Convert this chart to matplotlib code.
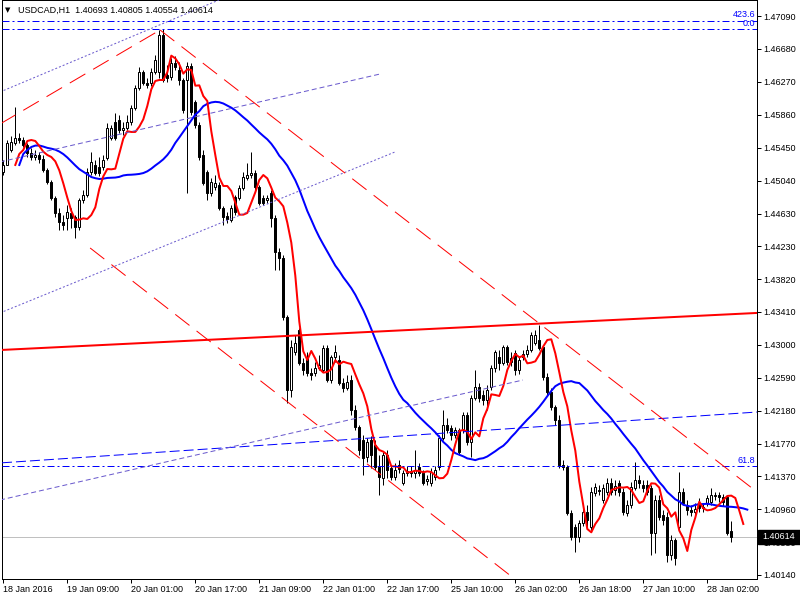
import numpy as np
import pandas as pd
import matplotlib
matplotlib.use("Agg")
import matplotlib.pyplot as plt
from matplotlib.patches import Rectangle
import matplotlib.transforms as mtransforms

plt.rcParams['lines.scale_dashes'] = False
plt.rcParams['font.family'] = ['Liberation Sans', 'DejaVu Sans']

# ---------------- data (USDCAD, H1) ----------------
opens = [
 1.45150,1.45238,1.45424,1.45511,1.45574,1.45548,1.45486,1.45387,1.45337,1.45362,
 1.45312,1.45175,1.45026,1.44828,1.44641,1.44529,1.44579,1.44641,1.44591,1.44467,
 1.44802,1.44865,1.45150,1.45238,1.45213,1.45213,1.45325,1.45574,1.45772,1.45797,
 1.45673,1.45698,1.45772,1.45947,1.46195,1.46394,1.46257,1.46257,1.46394,1.46394,
 1.46854,1.46357,1.46332,1.46506,1.46419,1.46294,1.46294,1.46468,1.46021,1.45735,
 1.45362,1.45150,1.44890,1.44964,1.44989,1.44703,1.44603,1.44554,1.44840,1.44828,
 1.44952,1.45076,1.45113,1.45138,1.44964,1.44828,1.44802,1.44890,1.44579,1.44156,
 1.44082,1.43348,1.42440,1.42912,1.43186,1.42776,1.42850,1.42652,1.42652,1.42714,
 1.42689,1.42963,1.42564,1.42850,1.42813,1.42527,1.42465,1.42564,1.42191,1.41980,
 1.41818,1.41607,1.41818,1.41756,1.41483,1.41346,1.41632,1.41471,1.41358,1.41508,
 1.41284,1.41408,1.41433,1.41408,1.41483,1.41408,1.41309,1.41284,1.41358,1.41483,
 1.41844,1.42005,1.41968,1.41881,1.41943,1.41943,1.42129,1.41793,1.42341,1.42477,
 1.42378,1.42316,1.42477,1.42714,1.42850,1.42776,1.42975,1.42788,1.42900,1.42689,
 1.42850,1.42887,1.42937,1.43025,1.43062,1.42975,1.42602,1.42415,1.42229,1.42067,
 1.41508,1.41483,1.40911,1.40737,1.40612,1.40787,1.40923,1.40737,1.41160,1.41197,
 1.41072,1.41172,1.41284,1.41197,1.41284,1.41172,1.40911,1.41010,1.41222,1.41321,
 1.41259,1.41259,1.41222,1.40662,1.41072,1.40886,1.40861,1.40389,1.40575,1.40737,
 1.41172,1.41010,1.40948,1.40923,1.41035,1.40972,1.41035,1.41047,1.41122,1.41135,
 1.41110,1.41110,1.40693]
highs = [
 1.45300,1.45548,1.45598,1.45959,1.45636,1.45586,1.45511,1.45449,1.45424,1.45399,
 1.45362,1.45201,1.45051,1.44852,1.44703,1.44616,1.44740,1.44703,1.44616,1.44828,
 1.44927,1.45201,1.45399,1.45300,1.45337,1.45362,1.45760,1.45735,1.45884,1.45859,
 1.45772,1.45859,1.45984,1.46232,1.46456,1.46419,1.46320,1.46444,1.46605,1.46916,
 1.46925,1.46481,1.46568,1.46592,1.46518,1.46320,1.46518,1.46506,1.46046,1.45772,
 1.45424,1.45175,1.45076,1.45113,1.45026,1.44727,1.44653,1.44740,1.44865,1.44989,
 1.45150,1.45263,1.45399,1.45175,1.44989,1.44865,1.44865,1.44927,1.44616,1.44206,
 1.44119,1.43373,1.43062,1.43124,1.43211,1.42838,1.42912,1.42714,1.42788,1.42875,
 1.43000,1.43000,1.42875,1.43000,1.42875,1.42590,1.42627,1.42627,1.42254,1.42005,
 1.41881,1.41844,1.41868,1.41818,1.41632,1.41669,1.41694,1.41508,1.41533,1.41570,
 1.41445,1.41495,1.41495,1.41694,1.41533,1.41445,1.41383,1.41471,1.41495,1.41881,
 1.42191,1.42092,1.42005,1.41980,1.41968,1.42166,1.42166,1.42378,1.42689,1.42527,
 1.42440,1.42502,1.42751,1.42937,1.42937,1.43000,1.43000,1.42912,1.42937,1.42863,
 1.42937,1.43000,1.43161,1.43186,1.43248,1.43000,1.42652,1.42465,1.42254,1.42129,
 1.41570,1.41508,1.40948,1.40774,1.40824,1.40972,1.41010,1.41234,1.41284,1.41259,
 1.41271,1.41346,1.41346,1.41321,1.41321,1.41222,1.41072,1.41296,1.41545,1.41383,
 1.41321,1.41321,1.41259,1.41135,1.41135,1.40948,1.40923,1.40637,1.40600,1.41420,
 1.41222,1.41072,1.41010,1.41035,1.41097,1.41035,1.41135,1.41222,1.41172,1.41172,
 1.41147,1.41135,1.40805]
lows = [
 1.45113,1.45237,1.45399,1.45486,1.45511,1.45461,1.45337,1.45300,1.45300,1.45263,
 1.45150,1.45001,1.44802,1.44591,1.44429,1.44429,1.44429,1.44455,1.44330,1.44429,
 1.44765,1.44840,1.45113,1.45113,1.45100,1.45175,1.45300,1.45548,1.45548,1.45636,
 1.45611,1.45673,1.45735,1.45921,1.46170,1.46232,1.46195,1.46219,1.46369,1.46320,
 1.46269,1.46269,1.46294,1.46419,1.46232,1.45884,1.44890,1.45859,1.45698,1.45300,
 1.44989,1.44802,1.44852,1.44927,1.44678,1.44492,1.44517,1.44529,1.44616,1.44802,
 1.44927,1.45051,1.45076,1.44927,1.44740,1.44740,1.44765,1.44467,1.43932,1.43932,
 1.43310,1.42279,1.42353,1.42875,1.42751,1.42627,1.42614,1.42564,1.42614,1.42689,
 1.42664,1.42539,1.42527,1.42788,1.42502,1.42415,1.42440,1.42129,1.41943,1.41632,
 1.41383,1.41545,1.41471,1.41445,1.41135,1.41259,1.41346,1.41321,1.41321,1.41408,
 1.41259,1.41370,1.41358,1.41346,1.41370,1.41259,1.41259,1.41246,1.41321,1.41445,
 1.41818,1.41906,1.41818,1.41844,1.41632,1.41906,1.41756,1.41607,1.42316,1.42291,
 1.42254,1.42191,1.42440,1.42664,1.42689,1.42751,1.42751,1.42738,1.42627,1.42639,
 1.42813,1.42850,1.42912,1.43000,1.42937,1.42564,1.42378,1.42191,1.42005,1.41471,
 1.41445,1.40886,1.40575,1.40426,1.40550,1.40749,1.40724,1.40699,1.41122,1.41135,
 1.41035,1.41135,1.41135,1.41135,1.41122,1.40886,1.40873,1.40972,1.41197,1.41222,
 1.41172,1.41135,1.40389,1.40414,1.40824,1.40761,1.40301,1.40326,1.40264,1.40699,
 1.41010,1.40886,1.40873,1.40886,1.40923,1.40923,1.40997,1.41010,1.41072,1.41047,
 1.40997,1.40637,1.40554]
closes = [
 1.45238,1.45511,1.45523,1.45574,1.45548,1.45486,1.45387,1.45337,1.45362,1.45312,
 1.45175,1.45026,1.44828,1.44641,1.44529,1.44492,1.44653,1.44579,1.44467,1.44802,
 1.44865,1.45150,1.45275,1.45138,1.45138,1.45300,1.45698,1.45698,1.45574,1.45673,
 1.45698,1.45772,1.45947,1.46195,1.46394,1.46257,1.46232,1.46394,1.46543,1.46854,
 1.46294,1.46320,1.46506,1.46456,1.46294,1.45921,1.46468,1.45896,1.45735,1.45337,
 1.45014,1.44890,1.45026,1.45014,1.44703,1.44591,1.44566,1.44703,1.44653,1.44952,
 1.45088,1.45113,1.45138,1.44964,1.44765,1.44765,1.44828,1.44579,1.44156,1.44082,
 1.43348,1.42440,1.42975,1.43025,1.42776,1.42689,1.42652,1.42627,1.42714,1.42751,
 1.42963,1.42564,1.42850,1.42912,1.42527,1.42465,1.42539,1.42191,1.41980,1.41694,
 1.41595,1.41793,1.41632,1.41483,1.41358,1.41632,1.41445,1.41358,1.41445,1.41458,
 1.41408,1.41433,1.41408,1.41445,1.41408,1.41284,1.41334,1.41420,1.41445,1.41844,
 1.42005,1.41943,1.41881,1.41943,1.41669,1.42129,1.41793,1.42341,1.42477,1.42341,
 1.42316,1.42440,1.42714,1.42912,1.42776,1.42975,1.42788,1.42838,1.42689,1.42813,
 1.42887,1.42937,1.43124,1.43124,1.42963,1.42602,1.42415,1.42229,1.42067,1.41508,
 1.41483,1.40911,1.40612,1.40612,1.40787,1.40923,1.40824,1.41172,1.41234,1.41185,
 1.41222,1.41284,1.41172,1.41246,1.41172,1.40923,1.41010,1.41234,1.41321,1.41284,
 1.41222,1.41172,1.40662,1.41072,1.40861,1.40824,1.40389,1.40575,1.40351,1.41172,
 1.41035,1.40948,1.40923,1.40960,1.40972,1.40985,1.41097,1.41135,1.41135,1.41110,
 1.41047,1.40662,1.40614]

fast_period, fast_shift = 3, 3     # red moving average (SMA, shifted right)
slow_period, slow_shift = 26, 4    # blue moving average (SMA, shifted right)

x_tick_bars = [0, 16, 32, 48, 64, 80, 96, 112, 128, 144, 160, 176]
x_tick_labels = ["18 Jan 2016", "19 Jan 09:00", "20 Jan 01:00", "20 Jan 17:00",
                 "21 Jan 09:00", "22 Jan 01:00", "22 Jan 17:00", "25 Jan 10:00",
                 "26 Jan 02:00", "26 Jan 18:00", "27 Jan 10:00", "28 Jan 02:00"]
y_ticks = [1.47090, 1.46680, 1.46270, 1.45860, 1.45450, 1.45040, 1.44630, 1.44230,
           1.43820, 1.43410, 1.43000, 1.42590, 1.42180, 1.41770, 1.41370, 1.40960,
           1.40550, 1.40140]

symbol = "USDCAD,H1"
last_price = 1.40614

fib_labels = ["423.6", "0.0", "61.8"]
fib_prices = [1.47032, 1.46925, 1.41495]

# analysis objects: (bar, price) anchor pairs
red_solid_line = [(-0.83, 1.42937), (188.43, 1.43398)]
blue_dash_line = [(-0.83, 1.41533), (188.43, 1.42166)]
purple_dot_a = [(-0.83, 1.46145), (53.9, 1.47289)]
purple_dash_b = [(-0.83, 1.45275), (94.2, 1.46369)]
purple_dot_c = [(-0.83, 1.43398), (97.9, 1.45399)]
purple_dash_d = [(-0.83, 1.41072), (129.9, 1.42564)]
red_dash_e = [(-0.83, 1.45747), (39.2, 1.46916)]
red_dash_f = [(39.2, 1.46916), (188.43, 1.41172)]
red_dash_g = [(21.7, 1.44206), (131.7, 1.39941)]

# ---------------- figure ----------------
PX = 0.72  # points per pixel at dpi 100
fig = plt.figure(figsize=(8, 6), dpi=100)
ax = fig.add_axes([2 / 800, 21 / 600, 755 / 800, 579 / 600])
ax.set_xlim(-0.325, 188.425)
ax.set_ylim(1.40090, 1.47289)

n = len(closes)
xs = np.arange(n)

# candles
for i in range(n):
    o, h, l, c = opens[i], highs[i], lows[i], closes[i]
    ax.plot([i, i], [l, h], color='black', lw=PX, zorder=2, solid_capstyle='butt')
    bottom = min(o, c)
    height = max(abs(c - o), 1e-6)
    ax.add_patch(Rectangle((i - 0.25, bottom), 0.5, height,
                           facecolor='white' if c >= o else 'black',
                           edgecolor='black', lw=PX, zorder=2.1))

# moving averages (shifted forward like MT4's "shift" parameter)
cs = pd.Series(closes)
ma_fast = cs.rolling(fast_period, min_periods=1).mean()
ma_slow = cs.rolling(slow_period, min_periods=1).mean()
ax.plot(xs + slow_shift, ma_slow, color='#0000FF', lw=2 * PX, zorder=3)
ax.plot(xs + fast_shift, ma_fast, color='#FF0000', lw=2 * PX, zorder=3.1)

# bid line
ax.axhline(last_price, color='#C0C0C0', lw=PX, zorder=1)

# fibonacci levels
fib_style = (0, (7 * PX, 3 * PX, 2 * PX, 3 * PX))
btrans = mtransforms.blended_transform_factory(ax.transAxes, ax.transData)
for lab, p in zip(fib_labels, fib_prices):
    ax.axhline(p, color='#0000FF', lw=PX, linestyle=fib_style, zorder=4)
    ax.text(1 - 2 / 755, p + 1.3 * 0.000124, lab, transform=btrans, ha='right',
            va='bottom', color='#0000FF', fontsize=6.5, zorder=5)

# trend lines
ax.axline(red_solid_line[0], red_solid_line[1], color='#FF0000', lw=2 * PX, zorder=4)
ax.axline(blue_dash_line[0], blue_dash_line[1], color='#0000FF', lw=PX,
          linestyle=(0, (10 * PX, 4 * PX)), zorder=4)

purple = '#6A5ACD'
dot = (0, (2 * PX, 2 * PX))
dash = (0, (5 * PX, 3 * PX))
reddash = (0, (18 * PX, 9 * PX))
for seg, col, ls in [(purple_dot_a, purple, dot), (purple_dash_b, purple, dash),
                     (purple_dot_c, purple, dot), (purple_dash_d, purple, dash),
                     (red_dash_e, '#FF0000', reddash), (red_dash_f, '#FF0000', reddash),
                     (red_dash_g, '#FF0000', reddash)]:
    ax.plot([seg[0][0], seg[1][0]], [seg[0][1], seg[1][1]], color=col, lw=PX,
            linestyle=ls, zorder=4)

# axes styling
for s in ax.spines.values():
    s.set_color('black')
    s.set_linewidth(PX)
ax.yaxis.tick_right()
ax.set_yticks(y_ticks)
ax.set_yticklabels([f"{v:.5f}" for v in y_ticks])
ax.set_xticks(x_tick_bars)
ax.set_xticklabels(x_tick_labels, ha='left')
ax.tick_params(axis='y', direction='out', length=3, width=PX, pad=1.5,
               labelsize=6.5, colors='black')
ax.tick_params(axis='x', direction='out', length=3, width=PX, pad=1.5,
               labelsize=6.5, colors='black')
ax.set_facecolor('white')

# current price box (covers the 1.40550 scale label like the terminal does)
ftrans = mtransforms.blended_transform_factory(fig.transFigure, ax.transData)
box_h = 14 * 0.00012433
fig.add_artist(Rectangle((758 / 800, last_price - box_h / 2), 42 / 800, box_h,
                         transform=ftrans, facecolor='black', edgecolor='black',
                         zorder=10))
fig.text(762 / 800, last_price, f"{last_price:.5f}", transform=ftrans, color='white',
         fontsize=6.5, va='center', ha='left', zorder=11)

# header
fig.text(5 / 800, 1 - 10 / 600, "\u25BC", family=['DejaVu Sans'], fontsize=5,
         va='center', ha='left', color='black')
fig.text(18 / 800, 1 - 10 / 600,
         f"{symbol}  {opens[-1]:.5f} {highs[-1]:.5f} {lows[-1]:.5f} {closes[-1]:.5f}",
         fontsize=6.5, va='center', ha='left', color='black')

fig.savefig("out.png", dpi=100, facecolor='white')
